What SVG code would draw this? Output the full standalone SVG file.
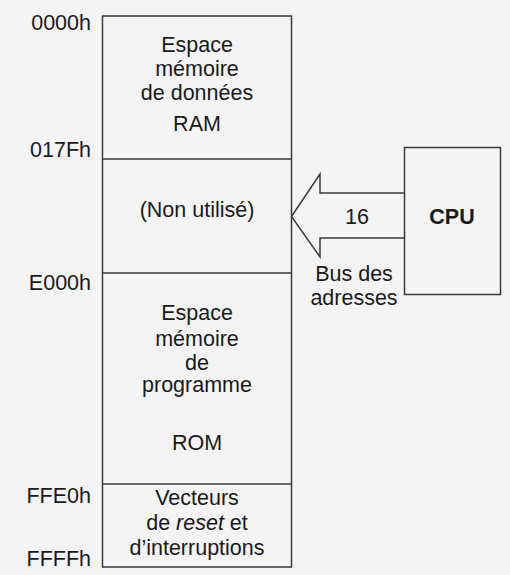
<svg xmlns="http://www.w3.org/2000/svg" width="510" height="575" viewBox="0 0 510 575">
<style>
.ln{fill:none;stroke:#3a3a3a;stroke-width:1.5}
.t{font-family:"Liberation Sans",Arial,sans-serif;font-size:21.5px;fill:#1a1a1a}
.c{text-anchor:middle}
.r{text-anchor:end}
</style>
<rect x="0" y="0" width="510" height="575" fill="#f4f4f4"/>
<g id="memory">
<rect class="ln" x="102.5" y="16" width="189" height="551" fill="#f8f8f8"/>
<line class="ln" x1="102.5" y1="159" x2="291.5" y2="159"/>
<line class="ln" x1="102.5" y1="273" x2="291.5" y2="273"/>
<line class="ln" x1="102.5" y1="484" x2="291.5" y2="484"/>
</g>
<g id="ram">
<text class="t c" x="197" y="52">Espace</text>
<text class="t c" x="197" y="76">mémoire</text>
<text class="t c" x="197" y="100">de données</text>
<text class="t c" x="197" y="131">RAM</text>
</g>
<g id="unused">
<text class="t c" x="197" y="217">(Non utilisé)</text>
</g>
<g id="rom">
<text class="t c" x="197" y="320">Espace</text>
<text class="t c" x="197" y="346">mémoire</text>
<text class="t c" x="197" y="370">de</text>
<text class="t c" x="197" y="392">programme</text>
<text class="t c" x="197" y="450">ROM</text>
</g>
<g id="vectors">
<text class="t c" x="197" y="505">Vecteurs</text>
<text class="t c" x="197" y="530">de <tspan font-style="italic">reset</tspan> et</text>
<text class="t c" x="197" y="555">d’interruptions</text>
</g>
<g id="addresses">
<text class="t r" x="91" y="30">0000h</text>
<text class="t r" x="91" y="157">017Fh</text>
<text class="t r" x="91" y="290">E000h</text>
<text class="t r" x="91" y="503">FFE0h</text>
<text class="t r" x="91" y="566">FFFFh</text>
</g>
<g id="cpu">
<rect class="ln" x="404.5" y="147.5" width="96" height="147"/>
<text class="t c" x="452" y="224" font-weight="bold">CPU</text>
</g>
<g id="connectors">
<polyline class="ln" points="404.5,193 320,193 320,174 291.5,216.5 320,257 320,238 404.5,238"/>
<text class="t c" x="357" y="224">16</text>
<text class="t c" x="354" y="281">Bus des</text>
<text class="t c" x="354" y="305">adresses</text>
</g>
</svg>
